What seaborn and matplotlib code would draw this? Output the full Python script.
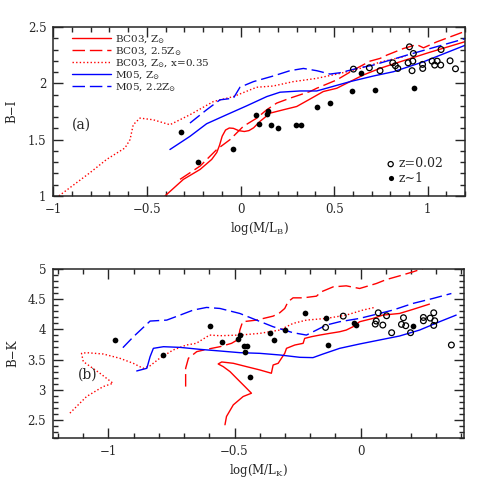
import numpy as np
import pandas as pd
import matplotlib
matplotlib.use('Agg')
import matplotlib.pyplot as plt
from matplotlib.ticker import MultipleLocator, FuncFormatter
import seaborn as sns

# ---- panel (a): B-I vs log(M/L_B) ----
bi_open_x = [0.603, 0.688, 0.745, 0.813, 0.827, 0.840, 0.902, 0.895, 0.920, 0.923,
             0.916, 0.972, 0.973, 1.023, 1.037, 1.050, 1.069, 1.071, 1.119, 1.148]
bi_open_y = [2.126, 2.138, 2.112, 2.182, 2.156, 2.132, 2.324, 2.182, 2.197, 2.265,
             2.112, 2.168, 2.132, 2.197, 2.162, 2.197, 2.162, 2.300, 2.200, 2.129]
bi_fill_x = [-0.316, -0.229, -0.038, 0.081, 0.101, 0.142, 0.147, 0.165, 0.202,
             0.297, 0.325, 0.407, 0.480, 0.598, 0.646, 0.720, 0.929]
bi_fill_y = [1.571, 1.303, 1.421, 1.718, 1.638, 1.724, 1.753, 1.626, 1.606,
             1.632, 1.626, 1.788, 1.826, 1.932, 2.088, 1.941, 1.956]

a_bc03_x = [-0.403, -0.305, -0.216, -0.154, -0.127, -0.112, -0.098, -0.080, -0.060, -0.038,
            -0.010, 0.020, 0.045, 0.070, 0.104, 0.158, 0.229, 0.300, 0.371, 0.442,
            0.514, 0.585, 0.656, 0.745, 0.85, 1.0, 1.2]
a_bc03_y = [1.0, 1.147, 1.235, 1.324, 1.385, 1.45, 1.53, 1.585, 1.603, 1.600,
            1.580, 1.572, 1.580, 1.605, 1.662, 1.735, 1.765, 1.794, 1.860, 1.927,
            1.956, 2.015, 2.074, 2.133, 2.19, 2.27, 2.37]
a_bc03z25_x = [-0.323, -0.216, -0.127, -0.056, 0.015, 0.087, 0.140, 0.193, 0.264, 0.371,
               0.407, 0.514, 0.603, 0.692, 0.745, 0.781, 0.870, 0.941, 0.977, 1.048, 1.19]
a_bc03z25_y = [1.147, 1.265, 1.412, 1.5, 1.618, 1.691, 1.765, 1.824, 1.868, 1.927,
               1.956, 2.030, 2.118, 2.197, 2.221, 2.25, 2.309, 2.344, 2.315, 2.368, 2.456]
a_bc03x_x = [-0.97, -0.804, -0.715, -0.617, -0.590, -0.573, -0.537, -0.466, -0.377, -0.270,
             -0.145, -0.038, 0.086, 0.175, 0.282, 0.407, 0.532, 0.638, 0.75, 0.88]
a_bc03x_y = [1.0, 1.206, 1.324, 1.426, 1.5, 1.632, 1.691, 1.676, 1.632, 1.721,
             1.838, 1.882, 1.965, 1.976, 2.015, 2.044, 2.088, 2.132, 2.19, 2.24]
a_m05_x = [-0.377, -0.270, -0.181, -0.074, 0.033, 0.140, 0.211, 0.318, 0.407, 0.478,
           0.585, 0.710, 0.817, 0.977, 1.2]
a_m05_y = [1.412, 1.529, 1.641, 1.721, 1.800, 1.882, 1.921, 1.932, 1.932, 1.965,
           2.015, 2.065, 2.103, 2.191, 2.338]
a_m05z22_x = [-0.270, -0.181, -0.110, -0.038, -0.003, 0.069, 0.175, 0.264, 0.336, 0.407,
              0.478, 0.532, 0.621, 0.710, 0.888, 1.2]
a_m05z22_y = [1.647, 1.765, 1.853, 1.868, 1.965, 2.015, 2.065, 2.112, 2.132, 2.112,
              2.082, 2.094, 2.132, 2.162, 2.250, 2.397]

# ---- panel (b): B-K vs log(M/L_K) ----
bk_open_x = [-0.139, -0.069, 0.058, 0.062, 0.070, 0.088, 0.103, 0.123, 0.162, 0.170,
             0.179, 0.198, 0.249, 0.249, 0.276, 0.290, 0.294, 0.290, 0.360]
bk_open_y = [4.033, 4.220, 4.088, 4.138, 4.275, 4.072, 4.226, 3.945, 4.083, 4.193,
             4.061, 3.945, 4.143, 4.198, 4.187, 4.275, 4.143, 4.066, 3.741]
bk_fill_x = [-0.974, -0.785, -0.596, -0.551, -0.485, -0.479, -0.463, -0.450, -0.460, -0.439,
             -0.360, -0.342, -0.299, -0.219, -0.139, -0.128, -0.028, -0.017, 0.207]
bk_fill_y = [3.829, 3.576, 4.061, 3.791, 3.835, 3.912, 3.725, 3.719, 3.620, 3.212,
             3.934, 3.818, 3.989, 4.270, 4.187, 3.747, 4.099, 4.072, 4.050]

b_bc03_x = [-0.538, -0.532, -0.505, -0.466, -0.433, -0.459, -0.492, -0.518, -0.545, -0.565,
            -0.551, -0.505, -0.453, -0.400, -0.354, -0.347, -0.327, -0.314, -0.301, -0.294,
            -0.261, -0.228, -0.222, -0.195, -0.162, -0.123, -0.083, -0.057, -0.030, -0.004,
            0.049, 0.088, 0.154, 0.207, 0.273]
b_bc03_y = [2.419, 2.556, 2.749, 2.887, 2.942, 3.052, 3.190, 3.300, 3.383, 3.427,
            3.460, 3.438, 3.383, 3.328, 3.273, 3.410, 3.438, 3.521, 3.603, 3.686,
            3.741, 3.769, 3.851, 3.879, 3.906, 3.934, 3.961, 3.989, 4.044, 4.127,
            4.182, 4.237, 4.264, 4.331, 4.419]
b_bc03z25_x = [-0.694, -0.694, -0.683, -0.650, -0.611, -0.558, -0.512, -0.485, -0.479, -0.468,
               -0.413, -0.347, -0.321, -0.301, -0.288, -0.268, -0.228, -0.175, -0.156, -0.109,
               -0.057, -0.004, 0.062, 0.102, 0.154, 0.207, 0.247]
b_bc03z25_y = [3.052, 3.355, 3.521, 3.631, 3.669, 3.713, 3.769, 3.835, 3.989, 4.127,
               4.154, 4.220, 4.275, 4.347, 4.457, 4.523, 4.523, 4.551, 4.623, 4.705,
               4.722, 4.678, 4.760, 4.826, 4.887, 4.953, 5.008]
b_bc03x_x = [-1.153, -1.087, -1.021, -0.982, -1.034, -1.100, -1.107, -1.087, -1.021, -0.955,
             -0.902, -0.863, -0.836, -0.797, -0.744, -0.691, -0.652, -0.599, -0.558, -0.479,
             -0.400, -0.321, -0.268, -0.215, -0.136, -0.057, 0.009, 0.055]
b_bc03x_y = [2.612, 2.887, 3.052, 3.107, 3.273, 3.466, 3.603, 3.614, 3.592, 3.521,
             3.438, 3.355, 3.394, 3.521, 3.658, 3.741, 3.769, 3.906, 3.895, 3.906,
             3.934, 3.989, 4.099, 4.154, 4.182, 4.237, 4.320, 4.364]
b_m05_x = [-0.888, -0.848, -0.835, -0.822, -0.782, -0.716, -0.637, -0.558, -0.479, -0.400,
           -0.321, -0.241, -0.189, -0.149, -0.083, -0.004, 0.075, 0.154, 0.234, 0.313, 0.379]
b_m05_y = [3.311, 3.355, 3.548, 3.686, 3.713, 3.702, 3.669, 3.642, 3.614, 3.603,
           3.576, 3.537, 3.532, 3.592, 3.686, 3.758, 3.824, 3.890, 3.989, 4.127, 4.237]
b_m05z22_x = [-0.943, -0.901, -0.835, -0.769, -0.716, -0.664, -0.611, -0.558, -0.479, -0.413,
              -0.347, -0.268, -0.215, -0.175, -0.136, -0.083, -0.004, 0.049, 0.128, 0.207,
              0.286, 0.360]
b_m05z22_y = [3.697, 3.879, 4.138, 4.154, 4.237, 4.320, 4.364, 4.347, 4.264, 4.154,
              4.044, 3.945, 3.906, 3.989, 4.072, 4.127, 4.182, 4.237, 4.320, 4.430,
              4.512, 4.595]

labels = ['BC03, Z$_{\\odot}$', 'BC03, 2.5Z$_{\\odot}$', 'BC03, Z$_{\\odot}$, x=0.35',
          'M05, Z$_{\\odot}$', 'M05, 2.2Z$_{\\odot}$']
colors = ['red', 'red', 'red', 'blue', 'blue']
styles = ['-', (0, (9, 3.5)), (0, (1, 1.6)), '-', (0, (9, 3.5))]

sns.set_style('ticks')
plt.rcParams['font.family'] = ['DejaVu Serif', 'DejaVu Sans']
plt.rcParams['mathtext.fontset'] = 'dejavuserif'
plt.rcParams['font.size'] = 8.5


def model_line(ax, x, y, i, lab=None):
    df = pd.DataFrame({'x': x, 'y': y})
    sns.lineplot(data=df, x='x', y='y', sort=False, estimator=None, ax=ax,
                 color=colors[i], linestyle=styles[i], linewidth=1.0, label=lab)


def points(ax, x, y, filled, lab=None):
    df = pd.DataFrame({'x': x, 'y': y})
    if filled:
        sns.scatterplot(data=df, x='x', y='y', ax=ax, color='black', s=17,
                        linewidth=0, zorder=5, label=lab)
    else:
        sns.scatterplot(data=df, x='x', y='y', ax=ax, marker='o', facecolors='none',
                        edgecolor='black', s=17, linewidth=0.9, zorder=5, label=lab)


def fmt(v, pos):
    return ('%g' % v).replace('-', '\u2212')


def style_axes(ax):
    ax.xaxis.set_major_locator(MultipleLocator(0.5))
    ax.xaxis.set_minor_locator(MultipleLocator(0.1))
    ax.yaxis.set_major_locator(MultipleLocator(0.5))
    ax.yaxis.set_minor_locator(MultipleLocator(0.1))
    ax.xaxis.set_major_formatter(FuncFormatter(fmt))
    ax.yaxis.set_major_formatter(FuncFormatter(fmt))
    ax.tick_params(which='both', direction='in', top=True, right=True, width=1.0)
    ax.tick_params(which='major', length=7, pad=5, labelsize=8.5)
    ax.tick_params(which='minor', length=3.5)
    for s in ax.spines.values():
        s.set_linewidth(1.1)
        s.set_visible(True)


fig = plt.figure(figsize=(4.91, 4.91), dpi=100)
ax1 = fig.add_axes([0.1085, 0.601, 0.839, 0.344])
ax2 = fig.add_axes([0.108, 0.108, 0.837, 0.344])

# panel (a)
a_lines = [(a_bc03_x, a_bc03_y), (a_bc03z25_x, a_bc03z25_y), (a_bc03x_x, a_bc03x_y),
           (a_m05_x, a_m05_y), (a_m05z22_x, a_m05z22_y)]
for i, (x, y) in enumerate(a_lines):
    model_line(ax1, x, y, i, labels[i])
points(ax1, bi_open_x, bi_open_y, False, 'z=0.02')
points(ax1, bi_fill_x, bi_fill_y, True, 'z\u223c1')

ax1.set_xlim(-1, 1.2)
ax1.set_ylim(1, 2.5)
ax1.set_xlabel('log(M/L$_\\mathrm{B}$)', fontsize=8.5, labelpad=3)
ax1.set_ylabel('B\u2212I', fontsize=8.5, labelpad=7)
style_axes(ax1)
ax1.text(-0.9, 1.63, '(a)', fontsize=10, va='center', ha='left')

h, l = ax1.get_legend_handles_labels()
leg1 = ax1.legend(h[:5], l[:5], loc='upper left', bbox_to_anchor=(0.03, 1.0),
                  frameon=False, fontsize=7.5, handlelength=3.8, handletextpad=0.35,
                  labelspacing=0.0, borderaxespad=0.2)
ax1.add_artist(leg1)
ax1.legend(h[5:], l[5:], loc='lower right', bbox_to_anchor=(0.975, 0.0),
           frameon=False, fontsize=9, handlelength=0.6, handletextpad=0.35,
           labelspacing=0.1, markerscale=0.9)

# panel (b)
b_lines = [(b_bc03_x, b_bc03_y), (b_bc03z25_x, b_bc03z25_y), (b_bc03x_x, b_bc03x_y),
           (b_m05_x, b_m05_y), (b_m05z22_x, b_m05z22_y)]
for i, (x, y) in enumerate(b_lines):
    model_line(ax2, x, y, i)
points(ax2, bk_open_x, bk_open_y, False)
points(ax2, bk_fill_x, bk_fill_y, True)

ax2.set_xlim(-1.22, 0.41)
ax2.set_ylim(2.2, 5)
ax2.set_xlabel('log(M/L$_\\mathrm{K}$)', fontsize=8.5, labelpad=3)
ax2.set_ylabel('B\u2212K', fontsize=8.5, labelpad=6)
style_axes(ax2)
ax2.text(-1.12, 3.25, '(b)', fontsize=10, va='center', ha='left')
if ax2.get_legend() is not None:
    ax2.get_legend().remove()

plt.savefig('out.png', dpi=100)
